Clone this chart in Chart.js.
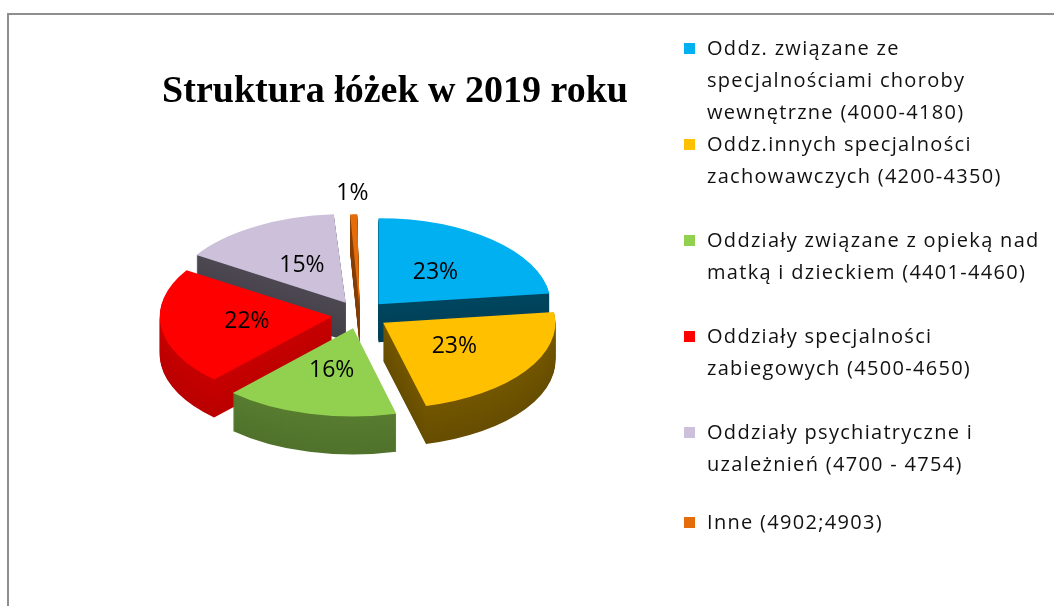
<!DOCTYPE html>
<html lang="pl">
<head>
<meta charset="UTF-8">
<title>Struktura łóżek w 2019 roku</title>
<script src="https://cdn.jsdelivr.net/npm/chart.js@4.4.1/dist/chart.umd.min.js"></script>
<style>
    body { margin: 0; background: #fff; }
    .frame {
        position: absolute; left: 7px; top: 13px; right: -4px; bottom: -4px;
        border-left: 2px solid #8e8e8e; border-top: 2px solid #8e8e8e;
    }
    #chart { position: absolute; left: 0; top: 0; }
    .legend {
        position: absolute; left: 684px; top: 32px;
        font-family: "Open Sans", sans-serif; font-size: 20px; letter-spacing: 1.3px;
        line-height: 32px; color: #111;
    }
    .legend .item { position: relative; padding-left: 23px; white-space: pre-line; margin-bottom: 32px; }
    .legend .item:first-child { margin-bottom: 0; }
    .legend .item:nth-child(5) { margin-bottom: 26px; }
    .legend .box { position: absolute; left: 0; top: 11px; width: 11px; height: 11px; }
</style>
</head>
<body>
<div class="frame"></div>
<canvas id="chart" width="1054" height="606"></canvas>
<div class="legend" id="legend"></div>

<script>
    const chartTitle = 'Struktura łóżek w 2019 roku';
    const categories = [
        'Oddz. związane ze\nspecjalnościami choroby\nwewnętrzne  (4000-4180)',
        'Oddz.innych specjalności\nzachowawczych (4200-4350)',
        'Oddziały związane z opieką nad\nmatką i dzieckiem (4401-4460)',
        'Oddziały specjalności\nzabiegowych (4500-4650)',
        'Oddziały psychiatryczne i\nuzależnień (4700 - 4754)',
        'Inne (4902;4903)'
    ];
    const shares = [23, 23, 16, 22, 15, 1];
    const colors = ['#00b0f0', '#ffc000', '#92d050', '#ff0000', '#ccc0da', '#e46c0a'];
    // how dark the side wall of each slice is
    const wallShade = [0.4, 0.45, 0.6, 0.78, 0.38, 0.6];
    const explode = [112, 112, 112, 112, 112, 60];

    // html legend
    const legendEl = document.getElementById('legend');
    categories.forEach((c, i) => {
        const item = document.createElement('div');
        item.className = 'item';
        item.textContent = c;
        const box = document.createElement('span');
        box.className = 'box';
        box.style.background = colors[i];
        item.prepend(box);
        legendEl.appendChild(item);
    });

    const squash = 0.5;   // vertical flattening of the pie
    const depth = 38;     // wall height in px

    function squashTransform(ctx, el, dy) {
        ctx.translate(el.x, el.y + dy);
        ctx.scale(1, squash);
        ctx.translate(-el.x, -el.y);
    }

    const pie3d = {
        id: 'pie3d',
        beforeDatasetsDraw(chart) {
            const ctx = chart.ctx;
            const arcs = chart.getDatasetMeta(0).data;
            for (let dy = depth; dy >= 1; dy--) {
                arcs.forEach((el, i) => {
                    ctx.save();
                    squashTransform(ctx, el, dy);
                    ctx.filter = 'brightness(' + (wallShade[i] - (dy / depth) * 0.05) + ')';
                    el.draw(ctx);
                    ctx.restore();
                });
            }
            ctx.save();
            squashTransform(ctx, arcs[0], 0);
        },
        afterDatasetsDraw(chart) {
            const ctx = chart.ctx;
            ctx.restore();
            const arcs = chart.getDatasetMeta(0).data;
            ctx.save();
            ctx.font = '23px "Open Sans"';
            ctx.fillStyle = '#000';
            ctx.textAlign = 'center';
            ctx.textBaseline = 'middle';
            arcs.forEach((el, i) => {
                const off = explode[i] / 4;
                const mid = (el.startAngle + el.endAngle) / 2;
                const r = off + (shares[i] < 5 ? 1.32 : 0.5) * el.outerRadius;
                const x = el.x + Math.cos(mid) * r;
                const y = el.y + Math.sin(mid) * r * squash;
                ctx.fillText(shares[i] + '%', x, y);
            });
            ctx.restore();
        }
    };

    new Chart(document.getElementById('chart'), {
        type: 'pie',
        data: {
            labels: categories,
            datasets: [{
                data: shares,
                backgroundColor: colors,
                borderWidth: 0,
                offset: explode,
                radius: 172,
                clip: false
            }]
        },
        options: {
            responsive: false,
            animation: false,
            events: [],
            layout: { padding: { left: 92, right: 426, top: 0, bottom: 101 } },
            plugins: {
                legend: { display: false },
                tooltip: { enabled: false },
                title: {
                    display: true,
                    text: chartTitle,
                    align: 'end',
                    color: '#000',
                    font: { family: 'Liberation Serif', size: 38, weight: 'bold' },
                    padding: { top: 69, bottom: 10 }
                }
            }
        },
        plugins: [pie3d]
    });
</script>
</body>
</html>
